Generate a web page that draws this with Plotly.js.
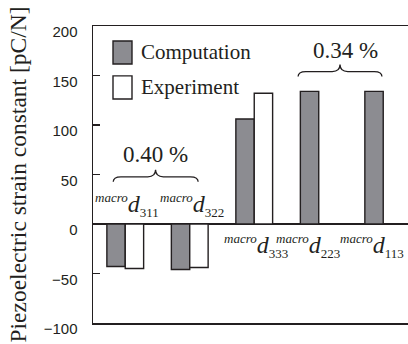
<!DOCTYPE html>
<html>
<head>
<meta charset="utf-8">
<script src="https://cdn.plot.ly/plotly-3.0.1.min.js"></script>
<style>html,body{margin:0;padding:0;background:#fff;}#chart{width:408px;height:344px;}</style>
</head>
<body>
<div id="chart"></div>
<script>
// ---- data ----
const categories = ["311", "322", "333", "223", "113"];
const computation = [-43, -46, 106, 134, 134];
const experiment = [-45, -44, 132, null, null];
const seriesNames = ["Computation", "Experiment"];
const yTickVals = [-100, -50, 0, 50, 100, 150, 200];
const strainLabels = ["0.40 %", "0.34 %"];

const ink = "#231f20";
const xs = categories.map((_, i) => i);

const traces = [
  {type: "bar", name: seriesNames[0], x: xs, y: computation,
   marker: {color: "#8c8c91", line: {color: ink, width: 1.4}}, showlegend: false},
  {type: "bar", name: seriesNames[1], x: xs, y: experiment,
   marker: {color: "#ffffff", line: {color: ink, width: 1.4}}, showlegend: false}
];

function brace(x0, x1, xm, yL, down, up, r) {
  return `M${x0},${yL - down} Q${x0},${yL} ${x0 + r},${yL} L${xm - r},${yL} Q${xm},${yL} ${xm},${yL + up} ` +
         `Q${xm},${yL} ${xm + r},${yL} L${x1 - r},${yL} Q${x1},${yL} ${x1},${yL - down}`;
}

const serif = "Liberation Serif, Times New Roman, serif";
const annotations = [];
categories.forEach((c, i) => {
  const neg = computation[i] < 0;
  const hasExp = experiment[i] !== null;
  annotations.push({
    xref: "x", yref: "y", x: hasExp ? i + 0.03 : i - 0.17, y: 0,
    xanchor: "center", yanchor: neg ? "bottom" : "top",
    yshift: neg ? 2 : -5, showarrow: false,
    font: {family: serif, size: 24, color: ink},
    text: `<sup><span style="font-size:13px"><i>macro</i></span></sup><i>d</i><sub><span style="font-size:13px">${c}</span></sub>`
  });
});
annotations.push({xref: "x", yref: "y", x: 0.47, y: 70, text: strainLabels[0], showarrow: false,
  font: {family: serif, size: 23, color: ink}});
annotations.push({xref: "x", yref: "y", x: 3.42, y: 175, text: strainLabels[1], showarrow: false,
  font: {family: serif, size: 23, color: ink}});
// legend texts
annotations.push({xref: "paper", yref: "paper", x: 0.146, y: 0.912, xanchor: "left", yanchor: "middle",
  text: seriesNames[0], showarrow: false, font: {family: serif, size: 21, color: ink}});
annotations.push({xref: "paper", yref: "paper", x: 0.146, y: 0.795, xanchor: "left", yanchor: "middle",
  text: seriesNames[1], showarrow: false, font: {family: serif, size: 21, color: ink}});

const shapes = [
  {type: "path", xref: "x", yref: "y", path: brace(-0.186, 1.13, 0.47, 47.7, 5, 7, 0.12),
   line: {color: ink, width: 1.3}},
  {type: "path", xref: "x", yref: "y", path: brace(2.68, 3.98, 3.33, 154, 5, 7, 0.12),
   line: {color: ink, width: 1.3}},
  {type: "rect", xref: "paper", yref: "paper", x0: 0.0635, x1: 0.1238, y0: 0.872, y1: 0.9495,
   fillcolor: "#8c8c91", line: {color: ink, width: 1.4}},
  {type: "rect", xref: "paper", yref: "paper", x0: 0.0635, x1: 0.1238, y0: 0.754, y1: 0.832,
   fillcolor: "#ffffff", line: {color: ink, width: 1.4}}
];

const layout = {
  width: 408, height: 344,
  margin: {l: 93, r: 0, t: 26, b: 21},
  paper_bgcolor: "#fff", plot_bgcolor: "#fff",
  barmode: "group", bargap: 0.43, bargroupgap: 0,
  showlegend: false,
  xaxis: {range: [-0.5, 4.384], showticklabels: false, ticks: "", showgrid: false,
          zeroline: false, showline: true, mirror: true, linecolor: ink, linewidth: 1.5, fixedrange: true},
  yaxis: {range: [-100, 200], tickvals: yTickVals, ticks: "inside", ticklen: 7, tickcolor: ink, tickwidth: 1.3,
          showgrid: false, zeroline: true, zerolinecolor: ink, zerolinewidth: 1.5,
          showline: true, linecolor: ink, linewidth: 1.5,
          tickfont: {family: "Liberation Sans, Arial, sans-serif", size: 15, color: ink},
          ticklabelstandoff: 11, ticklabelshift: 6,
          title: {text: "Piezoelectric strain constant [pC/N]", font: {family: serif, size: 23.5, color: ink}, standoff: 10},
          automargin: false, fixedrange: true},
  annotations: annotations,
  shapes: shapes
};

Plotly.newPlot("chart", traces, layout, {displayModeBar: false, staticPlot: true});
</script>
</body>
</html>
